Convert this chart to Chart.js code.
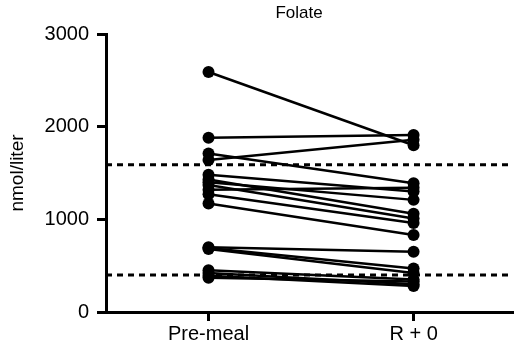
<!DOCTYPE html>
<html>
<head>
<meta charset="utf-8">
<script src="https://cdn.jsdelivr.net/npm/chart.js@4"></script>
<style>
  html, body { margin: 0; padding: 0; background: #fff; }
  #wrap { width: 518px; height: 343px; }
</style>
</head>
<body>
<div id="wrap"><canvas id="folateChart" width="518" height="343"></canvas></div>
<script>
// paired values per subject
const timeLabels = ['Pre-meal', 'R + 0'];
const preMeal = [2590, 1880, 1710, 1640, 1480, 1430, 1400, 1370, 1320, 1270, 1170, 700, 690, 680, 450, 420, 390, 370];
const rPlus0  = [1800, 1910, 1390, 1860, 1300, 1060, 1210, 1010, 1340, 960, 830, 650, 470, 420, 350, 300, 280, 330];
const refRange = [400, 1590];
const yTicks = [0, 1000, 2000, 3000];

const FONT = '"Liberation Sans", Arial, Helvetica, sans-serif';

// one dataset per subject (pre -> post)
const datasets = preMeal.map((v, i) => ({
    data: [{ x: 0, y: v }, { x: 1, y: rPlus0[i] }],
    borderColor: '#000',
    backgroundColor: '#000',
    borderWidth: 2.5,
    pointRadius: 6,
    pointBorderWidth: 0,
    pointHoverRadius: 6,
    tension: 0
}));

// dashed reference lines + title
const extras = {
    id: 'extras',
    beforeDatasetsDraw(chart) {
        const { ctx, chartArea, scales } = chart;
        ctx.save();
        ctx.strokeStyle = '#000';
        ctx.lineWidth = 3;
        ctx.setLineDash([6, 5]);
        refRange.forEach(v => {
            const y = scales.y.getPixelForValue(v);
            ctx.beginPath();
            ctx.moveTo(chartArea.left, y);
            ctx.lineTo(chartArea.right, y);
            ctx.stroke();
        });
        ctx.restore();
    },
    afterDraw(chart) {
        const ctx = chart.ctx;
        ctx.save();
        ctx.fillStyle = '#000';
        ctx.font = '17px ' + FONT;
        ctx.textAlign = 'center';
        ctx.textBaseline = 'middle';
        ctx.fillText('Folate', 299, 13);
        ctx.restore();
    }
};

new Chart(document.getElementById('folateChart'), {
    type: 'line',
    data: { datasets: datasets },
    options: {
        responsive: false,
        animation: false,
        layout: { padding: { top: 34, right: 0, bottom: 0, left: 0 } },
        plugins: { legend: { display: false }, tooltip: { enabled: false }, title: { display: false } },
        scales: {
            x: {
                type: 'linear',
                min: -0.5,
                max: 1.48,
                afterBuildTicks: s => { s.ticks = [{ value: 0 }, { value: 1 }]; },
                afterFit: s => { s.height = 31; },
                border: { color: '#000', width: 3 },
                grid: { drawOnChartArea: false, drawTicks: true, tickLength: 9, color: '#000', lineWidth: 3 },
                ticks: {
                    color: '#000',
                    font: { family: FONT, size: 20 },
                    padding: 1,
                    callback: v => timeLabels[v]
                }
            },
            y: {
                min: 0,
                max: 3000,
                afterBuildTicks: s => { s.ticks = yTicks.map(v => ({ value: v })); },
                afterFit: s => { s.width = 106; },
                border: { color: '#000', width: 3 },
                grid: { drawOnChartArea: false, drawTicks: true, tickLength: 9, color: '#000', lineWidth: 3 },
                ticks: {
                    color: '#000',
                    font: { family: FONT, size: 20 },
                    padding: 8,
                    callback: v => String(v)
                },
                title: {
                    display: true,
                    text: 'nmol/liter',
                    color: '#000',
                    font: { family: FONT, size: 19 },
                    padding: { top: 6, bottom: 0 }
                }
            }
        }
    },
    plugins: [extras]
});
</script>
</body>
</html>
